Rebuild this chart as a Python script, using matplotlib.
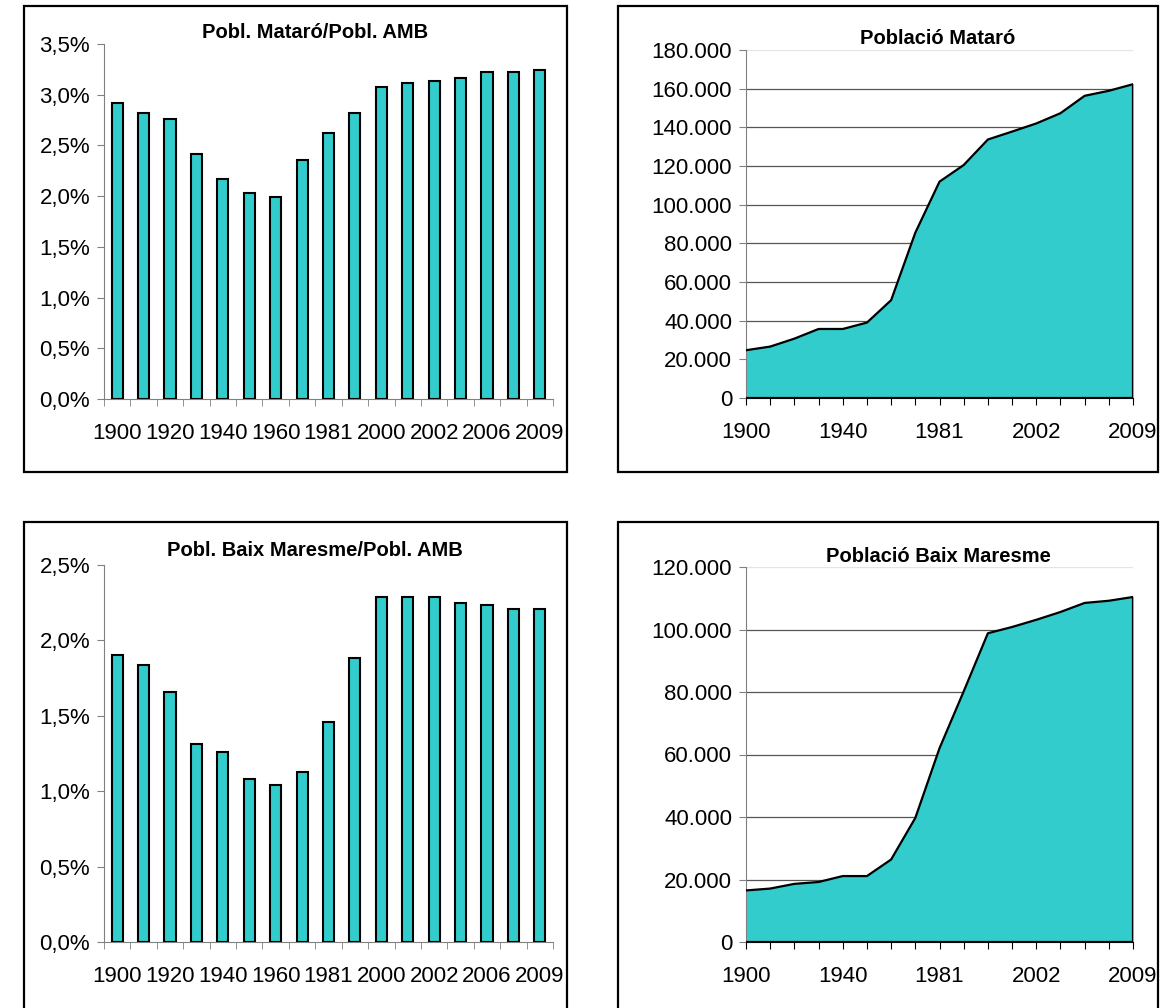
import matplotlib
matplotlib.use("Agg")
import matplotlib.pyplot as plt
from matplotlib.patches import Rectangle
from matplotlib.ticker import FuncFormatter, FixedLocator

plt.rcParams['font.family'] = ['Liberation Sans', 'DejaVu Sans']

# --------------------------------------------------------
# Data
# --------------------------------------------------------
years = ['1900', '1910', '1920', '1930', '1940', '1950', '1960', '1970', '1981',
         '1991', '2000', '2001', '2002', '2004', '2006', '2008', '2009']

share_mataro = [2.92, 2.82, 2.76, 2.42, 2.17, 2.03, 1.99, 2.36, 2.62,
                2.82, 3.08, 3.12, 3.14, 3.16, 3.22, 3.22, 3.24]
share_baix = [1.90, 1.84, 1.655, 1.31, 1.26, 1.08, 1.04, 1.13, 1.46,
              1.88, 2.29, 2.29, 2.29, 2.25, 2.235, 2.21, 2.21]

pop_mataro = [24700, 26600, 30700, 35700, 35700, 39000, 50600, 85500, 111900,
              120500, 133700, 137800, 142000, 147300, 156300, 158900, 162300]
pop_baix = [16500, 17100, 18600, 19200, 21100, 21100, 26400, 39700, 62000,
            80200, 98800, 100800, 103100, 105600, 108500, 109200, 110400]

TEAL = '#33CCCC'
GRAY = '#808080'
W, H = 1163, 1008
TICK_FS = 16
TITLE_FS = 14.5

fig = plt.figure(figsize=(W / 100, H / 100), dpi=100)

# panel frames (pixel boxes)
for x0, y0, x1, y1 in [(24, 6, 567, 472), (618, 6, 1158, 472),
                       (24, 522, 567, 1020), (618, 522, 1158, 1020)]:
    fig.patches.append(Rectangle((x0 / W, 1 - y1 / H), (x1 - x0) / W, (y1 - y0) / H,
                                 transform=fig.transFigure, fill=False,
                                 edgecolor='black', linewidth=1.6))


def pct_fmt(v, pos):
    return f"{v:.1f}%".replace('.', ',')


def thou_fmt(v, pos):
    return f"{int(round(v)):,}".replace(',', '.')


def style_axes(ax):
    for s in ['top', 'right']:
        ax.spines[s].set_visible(False)
    ax.spines['left'].set_color(GRAY)
    ax.spines['bottom'].set_color(GRAY)
    ax.tick_params(axis='y', which='major', direction='out', length=5,
                   color=GRAY, labelsize=TICK_FS, pad=5)


def bar_panel(rect, values, ymax, ystep, title, title_xy):
    ax = fig.add_axes(rect)
    n = len(values)
    ax.bar(range(n), values, width=0.42, color=TEAL, edgecolor='black',
           linewidth=1.5, zorder=3)
    ax.set_xlim(-0.5, n - 0.5)
    ax.set_ylim(0, ymax)
    ax.set_yticks([i * ystep for i in range(int(round(ymax / ystep)) + 1)])
    ax.yaxis.set_major_formatter(FuncFormatter(pct_fmt))
    ax.set_xticks(range(0, n, 2))
    ax.set_xticklabels(years[::2])
    ax.xaxis.set_minor_locator(FixedLocator([i - 0.5 for i in range(n + 1)]))
    ax.tick_params(axis='x', which='major', length=0, labelsize=TICK_FS, pad=17.5)
    ax.tick_params(axis='x', which='minor', direction='out', length=5, color=GRAY)
    style_axes(ax)
    fig.text(title_xy[0] / W, 1 - title_xy[1] / H, title, ha='center', va='center',
             fontsize=TITLE_FS, fontweight='bold')
    return ax


def area_panel(rect, values, ymax, title, title_xy):
    ax = fig.add_axes(rect)
    n = len(values)
    x = list(range(n))
    ticks = list(range(0, ymax + 1, 20000))
    for t in ticks[1:]:
        ax.axhline(t, color='#555555' if t < ymax else '#e4e4e4', linewidth=0.9, zorder=1)
    ax.fill_between(x, values, 0, color=TEAL, zorder=2)
    ax.plot(x + [n - 1], values + [0], color='black', linewidth=1.6, zorder=3)
    ax.plot([0, n - 1], [0, 0], color='black', linewidth=1.6, zorder=3)
    ax.set_xlim(0, n - 1)
    ax.set_ylim(0, ymax)
    ax.set_yticks(ticks)
    ax.yaxis.set_major_formatter(FuncFormatter(thou_fmt))
    ax.set_xticks(x)
    ax.set_xticklabels([y if i % 4 == 0 else '' for i, y in enumerate(years)])
    ax.tick_params(axis='x', direction='out', length=5, color='black',
                   labelsize=TICK_FS, pad=12.5)
    style_axes(ax)
    ax.spines['bottom'].set_color('black')
    fig.text(title_xy[0] / W, 1 - title_xy[1] / H, title, ha='center', va='center',
             fontsize=TITLE_FS, fontweight='bold')
    return ax


bar_panel([104 / W, 1 - 399 / H, 449 / W, 355 / H], share_mataro, 3.5, 0.5,
          'Pobl. Mataró/Pobl. AMB', (315, 33))
area_panel([746 / W, 1 - 398 / H, 387 / W, 348 / H], pop_mataro, 180000,
           'Població Mataró', (938, 38))
bar_panel([104 / W, 1 - 942 / H, 449 / W, 377 / H], share_baix, 2.5, 0.5,
          'Pobl. Baix Maresme/Pobl. AMB', (315, 551))
area_panel([746 / W, 1 - 942 / H, 387 / W, 375 / H], pop_baix, 120000,
           'Població Baix Maresme', (938, 556))

fig.savefig('out.png', dpi=100)
